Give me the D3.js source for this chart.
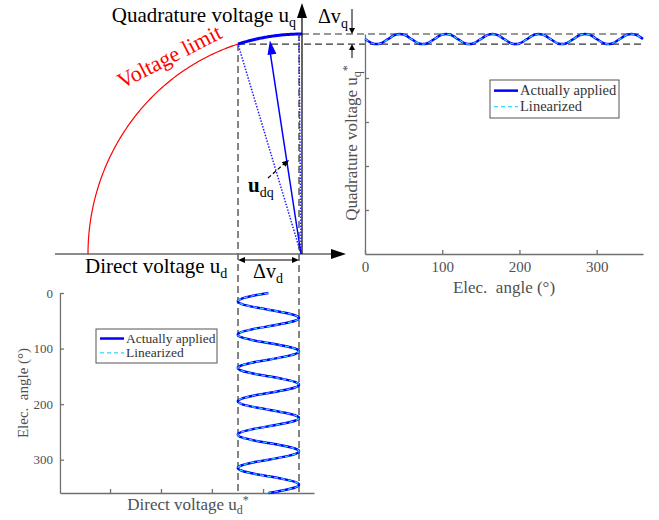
<!DOCTYPE html>
<html>
<head>
<meta charset="utf-8">
<script src="https://cdn.jsdelivr.net/npm/d3@7"></script>
<style>
body{margin:0;background:#fff}
svg{display:block}
</style>
</head>
<body>
<svg id="chart" width="659" height="520"></svg>
<script>
// electrical angle samples (deg)
var angle = [0,5,10,15,20,25,30,35,40,45,50,55,
	60,65,70,75,80,85,90,95,100,105,110,115,
	120,125,130,135,140,145,150,155,160,165,170,175,
	180,185,190,195,200,205,210,215,220,225,230,235,
	240,245,250,255,260,265,270,275,280,285,290,295,
	300,305,310,315,320,325,330,335,340,345,350,355,360];
// direct voltage u_d* (p.u.)
var udApplied = [-0.157,-0.229,-0.281,-0.300,-0.281,-0.229,-0.157,-0.086,-0.033,-0.014,-0.033,-0.086,
	-0.157,-0.229,-0.281,-0.300,-0.281,-0.229,-0.157,-0.086,-0.033,-0.014,-0.033,-0.086,
	-0.157,-0.229,-0.281,-0.300,-0.281,-0.229,-0.157,-0.086,-0.033,-0.014,-0.033,-0.086,
	-0.157,-0.229,-0.281,-0.300,-0.281,-0.229,-0.157,-0.086,-0.033,-0.014,-0.033,-0.086,
	-0.157,-0.229,-0.281,-0.300,-0.281,-0.229,-0.157,-0.086,-0.033,-0.014,-0.033,-0.086,
	-0.157,-0.229,-0.281,-0.300,-0.281,-0.229,-0.157,-0.086,-0.033,-0.014,-0.033,-0.086,-0.157];
// quadrature voltage u_q* (p.u.)
var uqApplied = [0.977,0.966,0.957,0.954,0.957,0.966,0.977,0.989,0.997,1.000,0.997,0.989,
	0.977,0.966,0.957,0.954,0.957,0.966,0.977,0.989,0.997,1.000,0.997,0.989,
	0.977,0.966,0.957,0.954,0.957,0.966,0.977,0.989,0.997,1.000,0.997,0.989,
	0.977,0.966,0.957,0.954,0.957,0.966,0.977,0.989,0.997,1.000,0.997,0.989,
	0.977,0.966,0.957,0.954,0.957,0.966,0.977,0.989,0.997,1.000,0.997,0.989,
	0.977,0.966,0.957,0.954,0.957,0.966,0.977,0.989,0.997,1.000,0.997,0.989,0.977];
// linearized curve lies on top of the applied one in the picture
var udLinear = udApplied;
var uqLinear = uqApplied;

var angleTicks = [0,100,200,300];
var uqTicks = [0.2,0.4,0.6,0.8];
var udTicks = [-0.897,-0.659,-0.421,-0.182];

var voltageLimit = 1;
var arcStart = [-0.299,0.954];   // left end of the applied arc
var arcEnd = [-0.014,1.0];       // right end
var udq = [-0.15,0.97];          // voltage vector

var svg = d3.select("#chart");
var serif = "'Liberation Serif','Times New Roman',serif";
var axisCol = "#707070", textCol = "#505050";

// phasor scales (p.u.)
var xV = d3.scaleLinear().domain([-1,0]).range([88,302]);
var yV = d3.scaleLinear().domain([0,1]).range([254,34]);
// right plot
var xA = d3.scaleLinear().domain([0,360]).range([365,643]);
// lower plot
var xB = d3.scaleLinear().domain([-1.131,0.056]).range([xV(-1.131),xV(0.056)]);
var yB = d3.scaleLinear().domain([0,360]).range([293,493]);

function arrowHead(g,tip,from,len,half,col)
{
	let dx = tip[0]-from[0], dy = tip[1]-from[1];
	let l = Math.sqrt(dx*dx+dy*dy);
	dx/=l; dy/=l;
	let bx = tip[0]-dx*len, by = tip[1]-dy*len;
	g.append("polygon")
		.attr("points",[tip,[bx-dy*half,by+dx*half],[bx+dy*half,by-dx*half]].map(p=>p.join(",")).join(" "))
		.style("fill",col);
}

// ---------- dashed guide lines ----------
var guides = svg.append("g").style("stroke","#333").style("stroke-width",1.2).style("stroke-dasharray","7,4").style("fill","none");
guides.append("line").attr("x1",xV(arcStart[0])).attr("x2",xV(arcStart[0])).attr("y1",yV(arcStart[1])).attr("y2",yB(360));
guides.append("line").attr("x1",xV(arcEnd[0])).attr("x2",xV(arcEnd[0])).attr("y1",yV(arcEnd[1])).attr("y2",yB(360));
guides.append("line").attr("x1",xV(0)).attr("x2",xA(360)).attr("y1",yV(arcEnd[1])).attr("y2",yV(arcEnd[1]));
guides.append("line").attr("x1",xV(arcStart[0])).attr("x2",xA(360)).attr("y1",yV(arcStart[1])).attr("y2",yV(arcStart[1]));

// ---------- phasor diagram ----------
var ph = svg.append("g");
ph.append("line").attr("x1",55).attr("x2",334).attr("y1",yV(0)).attr("y2",yV(0))
	.style("stroke","#666").style("stroke-width",1.3);
arrowHead(ph,[346,yV(0)],[300,yV(0)],15,5,"#000");
ph.append("line").attr("x1",xV(0)).attr("x2",xV(0)).attr("y1",yV(0)).attr("y2",18)
	.style("stroke","#000").style("stroke-width",1.2);
arrowHead(ph,[xV(0),3],[xV(0),100],15,5,"#000");

var phiStart = Math.atan2(arcStart[1],arcStart[0]);
var circ = d3.line().x(a=>xV(voltageLimit*Math.cos(a))).y(a=>yV(voltageLimit*Math.sin(a)));
ph.append("path").attr("d",circ(d3.range(Math.PI,phiStart,-0.01).concat([phiStart])))
	.style("fill","none").style("stroke","#ff0000").style("stroke-width",1.2);
ph.append("path").attr("d",circ(d3.range(phiStart,Math.PI/2,-0.005).concat([Math.PI/2])))
	.style("fill","none").style("stroke","#0000ff").style("stroke-width",3);

// dotted limits of the vector
[arcStart,arcEnd].forEach(p=>{
	ph.append("line").attr("x1",xV(0)-1).attr("y1",yV(0)).attr("x2",xV(p[0])).attr("y2",yV(p[1]))
		.style("stroke","#2020ff").style("stroke-width",1.5).style("stroke-dasharray","1.5,1.5");
});
// voltage vector
ph.append("line").attr("x1",xV(0)-1).attr("y1",yV(0)).attr("x2",xV(udq[0])).attr("y2",yV(udq[1])+10)
	.style("stroke","#0000ff").style("stroke-width",1.5);
arrowHead(ph,[xV(udq[0]),yV(udq[1])],[xV(0),yV(0)],14,4.5,"#0000ff");

// u_dq pointer
ph.append("line").attr("x1",268).attr("y1",178).attr("x2",285).attr("y2",163)
	.style("stroke","#000").style("stroke-width",1.2).style("stroke-dasharray","4,2.5");
arrowHead(ph,[289,160],[268,178],7,3,"#000");
var tu = ph.append("text").attr("x",248).attr("y",192).style("font-family",serif).style("font-size","21px");
tu.append("tspan").text("u").style("font-weight","bold");
tu.append("tspan").text("dq").attr("dy",5).style("font-size","14px");

// delta arrows
ph.append("line").attr("x1",352).attr("x2",352).attr("y1",9).attr("y2",30).style("stroke","#000").style("stroke-width",1);
arrowHead(ph,[352,yV(arcEnd[1])],[352,0],6,3,"#000");
ph.append("line").attr("x1",352).attr("x2",352).attr("y1",48).attr("y2",58).style("stroke","#000").style("stroke-width",1);
arrowHead(ph,[352,yV(arcStart[1])],[352,80],6,3,"#000");
ph.append("line").attr("x1",xV(arcStart[0])+4).attr("x2",xV(arcEnd[0])-4).attr("y1",260).attr("y2",260).style("stroke","#000").style("stroke-width",1);
arrowHead(ph,[xV(arcStart[0]),260],[300,260],7,3,"#000");
arrowHead(ph,[xV(arcEnd[0]),260],[200,260],7,3,"#000");

var tdq = ph.append("text").attr("x",318).attr("y",23).style("font-family",serif).style("font-size","20px");
tdq.append("tspan").text("\u0394v");
tdq.append("tspan").text("q").attr("dy",5).style("font-size","14px");
var tdd = ph.append("text").attr("x",268).attr("y",278).attr("text-anchor","middle").style("font-family",serif).style("font-size","20px");
tdd.append("tspan").text("\u0394v");
tdd.append("tspan").text("d").attr("dy",5).style("font-size","14px");

var tq = ph.append("text").attr("x",296).attr("y",22).attr("text-anchor","end").style("font-family",serif).style("font-size","21px");
tq.append("tspan").text("Quadrature voltage u");
tq.append("tspan").text("q").attr("dy",5).style("font-size","14px");
var td = ph.append("text").attr("x",85).attr("y",273).style("font-family",serif).style("font-size","21px");
td.append("tspan").text("Direct voltage u");
td.append("tspan").text("d").attr("dy",5).style("font-size","14px");

ph.append("text").attr("transform","translate(122,89) rotate(-27)")
	.style("font-family",serif).style("font-size","22px").style("fill","#ff0000").text("Voltage limit");

// ---------- right plot: u_q* over angle ----------
function styleAxis(g,fs)
{
	g.selectAll("path,line").style("stroke",axisCol).style("stroke-width",1.3);
	g.selectAll("text").style("fill",textCol).style("font-family",serif).style("font-size",fs+"px");
}
var gx = svg.append("g").attr("transform","translate(0,"+yV(0)+")")
	.call(d3.axisBottom(xA).tickValues(angleTicks).tickSize(-4).tickSizeOuter(0).tickPadding(7));
styleAxis(gx,15);
var gy = svg.append("g").attr("transform","translate("+xA(0)+",0)")
	.call(d3.axisLeft(yV).tickValues(uqTicks).tickSize(-4).tickSizeOuter(0).tickFormat(""));
styleAxis(gy,15);

var lineQ = d3.line().x((d,i)=>xA(angle[i])).y(d=>yV(d)).curve(d3.curveNatural);
svg.append("path").attr("d",lineQ(uqApplied)).style("fill","none").style("stroke","#0000ff").style("stroke-width",2.5);
svg.append("path").attr("d",lineQ(uqLinear)).style("fill","none").style("stroke","#30d8ff").style("stroke-width",1.2).style("stroke-dasharray","4,3");

var tyl = svg.append("text").attr("transform","translate(357,143) rotate(-90)").attr("text-anchor","middle")
	.style("font-family",serif).style("font-size","17px").style("fill",textCol);
tyl.append("tspan").text("Quadrature voltage u");
tyl.append("tspan").text("q").attr("dy",4).style("font-size","12px");
tyl.append("tspan").text("*").attr("dy",-10).style("font-size","12px");
svg.append("text").attr("x",504).attr("y",293).attr("text-anchor","middle")
	.style("font-family",serif).style("font-size","17px").style("fill",textCol).style("white-space","pre").text("Elec.  angle (\u00b0)");

// ---------- lower plot: angle over u_d* ----------
var bx = svg.append("g").attr("transform","translate(0,"+yB(360)+")")
	.call(d3.axisBottom(xB).tickValues(udTicks).tickSize(-4).tickSizeOuter(0).tickFormat(""));
styleAxis(bx,13);
var by = svg.append("g").attr("transform","translate("+xB.range()[0]+",0)")
	.call(d3.axisLeft(yB).tickValues(angleTicks).tickSize(-4).tickSizeOuter(0).tickPadding(7));
styleAxis(by,13);

var lineD = d3.line().x(d=>xB(d)).y((d,i)=>yB(angle[i])).curve(d3.curveNatural);
svg.append("path").attr("d",lineD(udApplied)).style("fill","none").style("stroke","#0000ff").style("stroke-width",2.5);
svg.append("path").attr("d",lineD(udLinear)).style("fill","none").style("stroke","#30d8ff").style("stroke-width",1.2).style("stroke-dasharray","4,3");

svg.append("text").attr("transform","translate(28,"+yB(180)+") rotate(-90)").attr("text-anchor","middle")
	.style("font-family",serif).style("font-size","15px").style("fill",textCol).style("white-space","pre").text("Elec.  angle (\u00b0)");
var txl = svg.append("text").attr("x",188).attr("y",510).attr("text-anchor","middle")
	.style("font-family",serif).style("font-size","17px").style("fill",textCol);
txl.append("tspan").text("Direct voltage u");
txl.append("tspan").text("d").attr("dy",4).style("font-size","12px");
txl.append("tspan").text("*").attr("dy",-10).style("font-size","12px");

// ---------- legends ----------
function legend(x,y,w,h,fs)
{
	let g = svg.append("g").attr("transform","translate("+x+","+y+")");
	g.append("rect").attr("width",w).attr("height",h).style("fill","#fff").style("stroke","#555").style("stroke-width",1);
	let r1 = h*0.28, r2 = h*0.7;
	g.append("line").attr("x1",4).attr("x2",28).attr("y1",r1).attr("y2",r1).style("stroke","#0000ff").style("stroke-width",2.5);
	g.append("line").attr("x1",4).attr("x2",28).attr("y1",r2).attr("y2",r2).style("stroke","#30d8ff").style("stroke-width",1.2).style("stroke-dasharray","4,3");
	g.append("text").attr("x",30).attr("y",r1+fs*0.32).style("font-family",serif).style("font-size",fs+"px").style("fill","#333").text("Actually applied");
	g.append("text").attr("x",30).attr("y",r2+fs*0.32).style("font-family",serif).style("font-size",fs+"px").style("fill","#333").text("Linearized");
}
legend(490,80,129,38,14.5);
legend(96,329,121,34,13.5);
</script>
</body>
</html>
